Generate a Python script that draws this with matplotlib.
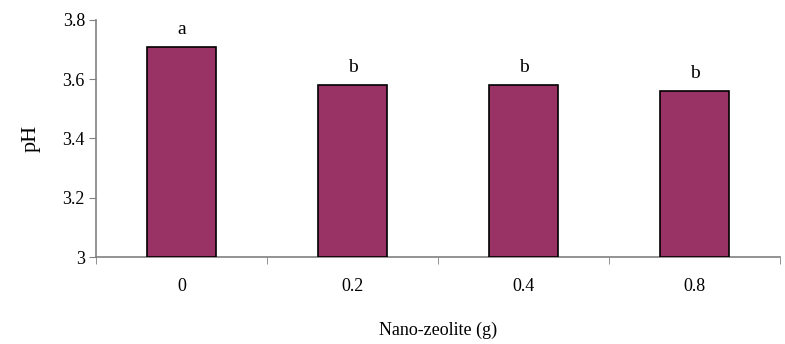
import numpy as np
import matplotlib.pyplot as plt

plt.rcParams['font.family'] = ['Liberation Serif', 'DejaVu Serif']

# data
doses = ["0", "0.2", "0.4", "0.8"]
ph = [3.71, 3.58, 3.58, 3.56]
letters = ["a", "b", "b", "b"]

fig = plt.figure(figsize=(7.85, 3.44), dpi=100)
ax = fig.add_axes([0.1223, 0.2529, 0.8713, 0.689])

x = np.arange(len(doses))
ax.bar(x, np.array(ph) - 3, bottom=3, width=0.4, color="#993366",
       edgecolor="black", linewidth=1.2, zorder=3)

for xi, v, l in zip(x, ph, letters):
    ax.text(xi, v + 0.03, l, ha="center", va="bottom", fontsize=14)

ax.set_xlim(-0.5, len(doses) - 0.5)
ax.set_ylim(3, 3.8)
ax.set_yticks([3, 3.2, 3.4, 3.6, 3.8])
ax.set_yticklabels(["3", "3.2", "3.4", "3.6", "3.8"])

# category labels centred, tick marks between categories
ax.set_xticks(x)
ax.set_xticklabels(doses)
ax.set_xticks(np.arange(len(doses) + 1) - 0.5, minor=True)
ax.tick_params(axis="x", which="major", length=0, pad=15, labelsize=13)
ax.tick_params(axis="x", which="minor", length=5, color="#808080")
ax.tick_params(axis="y", length=5, color="#808080", labelsize=13, pad=3)

for s in ["top", "right"]:
    ax.spines[s].set_visible(False)
for s in ["left", "bottom"]:
    ax.spines[s].set_color("#808080")
    ax.spines[s].set_linewidth(1.2)

ax.set_ylabel("pH", fontsize=16, labelpad=16)
ax.set_xlabel("Nano-zeolite (g)", fontsize=13, labelpad=19)

fig.savefig("out.png", dpi=100)
